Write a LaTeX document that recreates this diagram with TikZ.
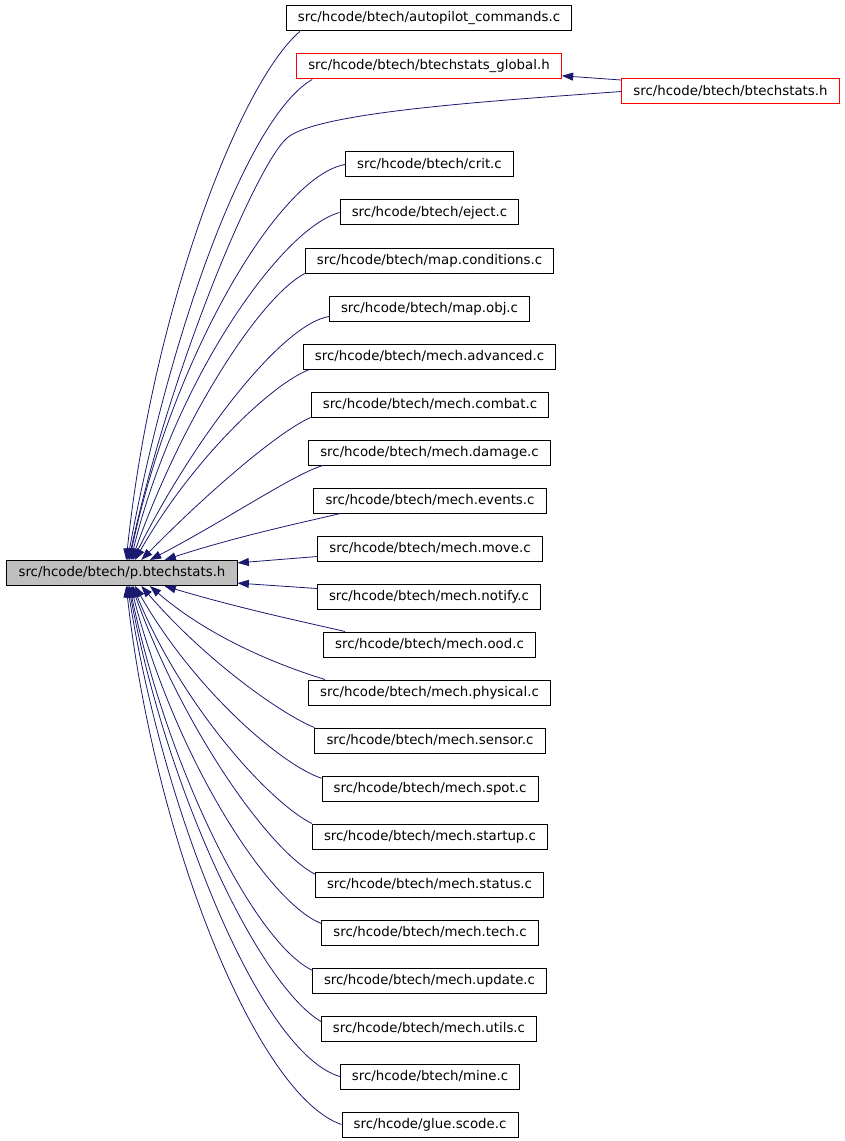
\documentclass[tikz,border=0pt]{standalone}
\usepackage{fontspec}
\setmainfont{DejaVu Sans}
\usetikzlibrary{arrows.meta}
\definecolor{edgeblue}{HTML}{191970}
\definecolor{maingray}{HTML}{BFBFBF}
\begin{document}
\begin{tikzpicture}[x=0.75pt,y=-0.75pt]
    \tikzstyle{file}=[rectangle,draw=black,line width=0.75pt,minimum height=18.75pt,inner xsep=8.7pt,inner ysep=0pt,font=\fontsize{10pt}{12pt}\selectfont]
    \tikzstyle{redfile}=[file,draw=red]
    \tikzstyle{edge}=[draw,edgeblue,line width=0.6pt,->,>={Triangle[length=8.5pt,width=6pt]}]
    \useasboundingbox (0,0) rectangle (845,1141);
    \begin{scope}
        \node [file,fill=maingray] (main) at (122,573) {src/hcode/btech/p.btechstats.h};
        \node [file] (ap) at (429,18.5) {src/hcode/btech/autopilot\_commands.c};
        \node [redfile] (gl) at (429,66.5) {src/hcode/btech/btechstats\_global.h};
        \node [redfile] (bs) at (730.5,91.5) {src/hcode/btech/btechstats.h};
        \node [file] (crit) at (429.5,164.5) {src/hcode/btech/crit.c};
        \node [file] (eject) at (429.5,212.5) {src/hcode/btech/eject.c};
        \node [file] (mapcond) at (429.5,260.5) {src/hcode/btech/map.conditions.c};
        \node [file] (mapobj) at (429.5,308.5) {src/hcode/btech/map.obj.c};
        \node [file] (adv) at (429.5,356.5) {src/hcode/btech/mech.advanced.c};
        \node [file] (combat) at (430,404.5) {src/hcode/btech/mech.combat.c};
        \node [file] (damage) at (429.5,452.5) {src/hcode/btech/mech.damage.c};
        \node [file] (events) at (430,500.5) {src/hcode/btech/mech.events.c};
        \node [file] (move) at (430,548.5) {src/hcode/btech/mech.move.c};
        \node [file] (notify) at (429,596.5) {src/hcode/btech/mech.notify.c};
        \node [file] (ood) at (429.5,644.5) {src/hcode/btech/mech.ood.c};
        \node [file] (physical) at (429.5,692.5) {src/hcode/btech/mech.physical.c};
        \node [file] (sensor) at (430,740.5) {src/hcode/btech/mech.sensor.c};
        \node [file] (spot) at (430,788.5) {src/hcode/btech/mech.spot.c};
        \node [file] (startup) at (430,836.5) {src/hcode/btech/mech.startup.c};
        \node [file] (status) at (429.5,884.5) {src/hcode/btech/mech.status.c};
        \node [file] (tech) at (430,932.5) {src/hcode/btech/mech.tech.c};
        \node [file] (update) at (429.5,980.5) {src/hcode/btech/mech.update.c};
        \node [file] (utils) at (429,1028.5) {src/hcode/btech/mech.utils.c};
        \node [file] (mine) at (430,1076.5) {src/hcode/btech/mine.c};
        \node [file] (glue) at (430,1124.5) {src/hcode/glue.scode.c};
        % includes above the main header
        \path[edge] ([xshift=10.5pt]ap.south west) .. controls (239,84) and (152,312) .. (main.72);
        \path[edge] ([xshift=12pt]gl.south west) .. controls (247,117) and (169,334) .. (main.67);
        \path[edge] (bs.174) -- (gl.356);
        \path[edge] (bs.west) .. controls (491,101) and (317,112) .. (287,138) .. controls (257,164) and (171,365) .. (main.63);
        \path[edge] (crit.west) .. controls (278,176) and (171,361) .. (main.60);
        \path[edge] (eject.west) .. controls (281,228) and (174,382) .. (main.56);
        \path[edge] (mapcond.south west) .. controls (260,297) and (182,418) .. (main.53);
        \path[edge] ([yshift=3.75pt]mapobj.south west) .. controls (283,324) and (196,434) .. (main.50);
        \path[edge] ([xshift=5pt]adv.south west) .. controls (273,383) and (193,458) .. (main.45);
        \path[edge] (combat.south west) .. controls (281,430) and (211,489) .. (main.34);
        \path[edge] ([xshift=11pt]damage.south west) .. controls (294,474) and (228,519) .. (main.25);
        \path[edge] ([xshift=20pt]events.south west) .. controls (314,520) and (241,535) .. (main.17);
        \path[edge] ([yshift=3.75pt]move.south west) -- (main.5);
        % includes below the main header
        \path[edge] ([yshift=-3.75pt]notify.north west) -- (main.355);
        \path[edge] ([xshift=16.5pt]ood.north west) .. controls (318,625) and (245,610) .. (main.343);
        \path[edge] ([xshift=12.75pt]physical.north west) .. controls (297,671) and (217,644) .. (main.335);
        \path[edge] (sensor.north west) .. controls (283,715) and (207,662) .. (main.326);
        \path[edge] ([yshift=-2pt]spot.north west) .. controls (283,766) and (195,691) .. (main.315);
        \path[edge] (startup.north west) .. controls (272,804) and (184,710) .. (main.310);
        \path[edge] ([yshift=-2pt]status.north west) .. controls (270,851) and (184,731) .. (main.307);
        \path[edge] ([yshift=-3pt]tech.north west) .. controls (267,902) and (174,755) .. (main.304);
        \path[edge] ([yshift=-2pt]update.north west) .. controls (255,942) and (169,774) .. (main.300);
        \path[edge] ([yshift=-4.5pt]utils.north west) .. controls (260,985) and (168,797) .. (main.297);
        \path[edge] (mine.west) .. controls (263,1054) and (165,823) .. (main.293);
        \path[edge] (glue.west) .. controls (258,1096) and (155,844) .. (main.288);
    \end{scope}
\end{tikzpicture}
\end{document}
